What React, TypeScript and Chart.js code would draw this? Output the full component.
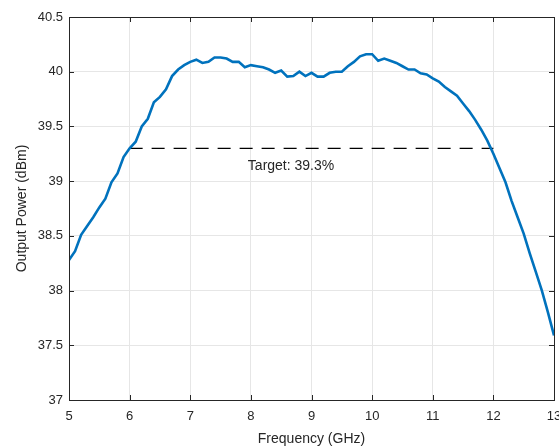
import React, { useEffect, useRef } from "react";
import { Chart, registerables } from "chart.js";

Chart.register(...registerables);

const frequency: number[] = [
  5.0, 5.1, 5.2, 5.3, 5.4, 5.5, 5.6, 5.7, 5.8, 5.9,
  6.0, 6.1, 6.2, 6.3, 6.4, 6.5, 6.6, 6.7, 6.8, 6.9,
  7.0, 7.1, 7.2, 7.3, 7.4, 7.5, 7.6, 7.7, 7.8, 7.9,
  8.0, 8.1, 8.2, 8.3, 8.4, 8.5, 8.6, 8.7, 8.8, 8.9,
  9.0, 9.1, 9.2, 9.3, 9.4, 9.5, 9.6, 9.7, 9.8, 9.9,
  10.0, 10.1, 10.2, 10.3, 10.4, 10.5, 10.6, 10.7, 10.8, 10.9,
  11.0, 11.1, 11.2, 11.3, 11.4, 11.5, 11.6, 11.7, 11.8, 11.9,
  12.0, 12.1, 12.2, 12.3, 12.4, 12.5, 12.6, 12.7, 12.8, 12.9,
  13.0,
];

const outputPower: number[] = [
  38.28, 38.36, 38.51, 38.59, 38.67, 38.76, 38.84, 38.99, 39.07, 39.22,
  39.3, 39.36, 39.5, 39.57, 39.72, 39.77, 39.84, 39.96, 40.02, 40.06,
  40.09, 40.11, 40.08, 40.09, 40.13, 40.13, 40.12, 40.09, 40.09, 40.04,
  40.06, 40.05, 40.04, 40.02, 39.99, 40.01, 39.955, 39.96, 40.0, 39.96,
  39.99, 39.955, 39.955, 39.99, 40.0, 40.0, 40.05, 40.09, 40.14, 40.16,
  40.16, 40.1, 40.12, 40.1, 40.08, 40.05, 40.02, 40.02, 39.985, 39.975,
  39.94, 39.91, 39.86, 39.82, 39.78, 39.71, 39.64, 39.56, 39.47, 39.37,
  39.25, 39.12, 38.99, 38.82, 38.67, 38.52, 38.34, 38.17, 38.0, 37.8,
  37.59,
];

const targetX: number[] = [6, 12];
const targetY: number[] = [39.3, 39.3];
const targetLabel = "Target: 39.3%";
const targetLabelPos = { x: 7.95, y: 39.14 };

const xTicks: number[] = [5, 6, 7, 8, 9, 10, 11, 12, 13];
const yTicks: number[] = [37, 37.5, 38, 38.5, 39, 39.5, 40, 40.5];

const FONT = "'Liberation Sans', Arial, Helvetica, sans-serif";
const TEXT = "#262626";

const boxPlugin = {
  id: "matlabBox",
  afterDraw(chart: any) {
    const { ctx, chartArea, scales } = chart;
    const { left, right, top, bottom } = chartArea;
    ctx.save();
    ctx.fillStyle = TEXT;
    ctx.font = `14px ${FONT}`;
    ctx.textAlign = "left";
    ctx.textBaseline = "middle";
    ctx.fillText(
      targetLabel,
      scales.x.getPixelForValue(targetLabelPos.x),
      scales.y.getPixelForValue(targetLabelPos.y)
    );
    ctx.strokeStyle = TEXT;
    ctx.lineWidth = 1;
    ctx.strokeRect(Math.round(left) + 0.5, Math.round(top) + 0.5, Math.round(right - left), Math.round(bottom - top));
    const tl = 5;
    ctx.beginPath();
    for (const v of xTicks) {
      const px = Math.round(scales.x.getPixelForValue(v)) + 0.5;
      ctx.moveTo(px, bottom);
      ctx.lineTo(px, bottom - tl);
      ctx.moveTo(px, top);
      ctx.lineTo(px, top + tl);
    }
    for (const v of yTicks) {
      const py = Math.round(scales.y.getPixelForValue(v)) + 0.5;
      ctx.moveTo(left, py);
      ctx.lineTo(left + tl, py);
      ctx.moveTo(right, py);
      ctx.lineTo(right - tl, py);
    }
    ctx.stroke();
    ctx.restore();
  },
};

export default function App() {
  const ref = useRef<HTMLCanvasElement | null>(null);

  useEffect(() => {
    document.body.style.margin = "0";
    const canvas = ref.current;
    if (!canvas) return;
    const chart = new Chart(canvas, {
      type: "line",
      data: {
        datasets: [
          {
            label: "Output Power",
            data: frequency.map((f, i) => ({ x: f, y: outputPower[i] })),
            borderColor: "#0072BD",
            borderWidth: 2.6,
            pointRadius: 0,
            tension: 0,
            fill: false,
          },
          {
            label: "Target",
            data: targetX.map((f, i) => ({ x: f, y: targetY[i] })),
            borderColor: "#000000",
            borderWidth: 1.3,
            borderDash: [13, 9],
            pointRadius: 0,
            fill: false,
          },
        ],
      },
      options: {
        animation: false,
        responsive: false,
        maintainAspectRatio: false,
        layout: { padding: { top: 17, right: 5, left: 0, bottom: 0 } },
        plugins: {
          legend: { display: false },
          tooltip: { enabled: false },
        },
        scales: {
          x: {
            type: "linear",
            min: 5,
            max: 13,
            afterBuildTicks: (s: any) => {
              s.ticks = xTicks.map((v) => ({ value: v }));
            },
            afterFit: (s: any) => {
              s.height = 48;
              s.paddingLeft = 0;
              s.paddingRight = 0;
            },
            grid: { color: "#e6e6e6", drawTicks: false, lineWidth: 1 },
            border: { display: false },
            ticks: {
              color: TEXT,
              font: { family: FONT, size: 13 },
              padding: 9,
              maxRotation: 0,
              autoSkip: false,
            },
            title: {
              display: true,
              text: "Frequency (GHz)",
              color: TEXT,
              font: { family: FONT, size: 14 },
              padding: { top: 2, bottom: 0 },
            },
          },
          y: {
            type: "linear",
            min: 37,
            max: 40.5,
            afterBuildTicks: (s: any) => {
              s.ticks = yTicks.map((v) => ({ value: v }));
            },
            afterFit: (s: any) => {
              s.width = 69;
              s.paddingTop = 0;
              s.paddingBottom = 0;
            },
            grid: { color: "#e6e6e6", drawTicks: false, lineWidth: 1 },
            border: { display: false },
            ticks: {
              color: TEXT,
              font: { family: FONT, size: 13 },
              padding: 6,
              autoSkip: false,
              callback: (v: any) => String(v),
            },
            title: {
              display: true,
              text: "Output Power (dBm)",
              color: TEXT,
              font: { family: FONT, size: 14 },
              padding: { top: 14, bottom: 0 },
            },
          },
        },
      },
      plugins: [boxPlugin],
    } as any);
    return () => chart.destroy();
  }, []);

  return (
    <div style={{ position: "absolute", left: 0, top: 0, width: 559, height: 448, background: "#fff" }}>
      <canvas ref={ref} width={559} height={448} style={{ width: 559, height: 448 }} />
    </div>
  );
}
